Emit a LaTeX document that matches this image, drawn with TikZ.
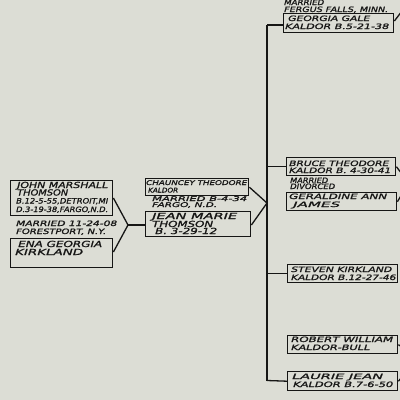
\documentclass[tikz,border=0pt]{standalone}
\usepackage{fontspec}
\usepackage{graphicx}
\newfontfamily\lett[FakeBold=1.2]{DejaVu Sans}
\newcommand\fw[2]{\resizebox{#1pt}{\height}{#2}}
\definecolor{paper}{HTML}{DCDDD5}
\definecolor{ink}{HTML}{161615}
\begin{document}
\begin{tikzpicture}[x=1pt,y=-1pt,
  box/.style={draw=ink, line width=1.4pt, anchor=north west, inner sep=0pt},
  link/.style={draw=ink, line width=1.3pt},
  txt/.style={anchor=base west, inner sep=0pt, text=ink, font=\lett\itshape\fontsize{8.4}{9}\selectfont},
  sml/.style={txt, font=\lett\itshape\fontsize{7.4}{8}\selectfont},
  tny/.style={txt, font=\lett\itshape\fontsize{6.5}{7}\selectfont}]
\fill[paper] (0,0) rectangle (400,400);
\useasboundingbox (0,0) rectangle (400,400);
\clip (0,0) rectangle (400,400);

% boxes
\node[box, minimum width=102pt, minimum height=35pt] (john) at (10,180) {};
\node[box, minimum width=102pt, minimum height=29pt] (ena) at (10,238) {};
\node[box, minimum width=103pt, minimum height=17pt] (chauncey) at (145,178) {};
\node[box, minimum width=105pt, minimum height=25pt] (jean) at (145,211) {};
\node[box, minimum width=110pt, minimum height=19pt] (georgia) at (283,13) {};
\node[box, minimum width=109pt, minimum height=18pt] (bruce) at (286,157) {};
\node[box, minimum width=110pt, minimum height=18pt] (geraldine) at (286,192) {};
\node[box, minimum width=110pt, minimum height=18pt] (steven) at (287,264) {};
\node[box, minimum width=110pt, minimum height=18pt] (robert) at (287,335) {};
\node[box, minimum width=110pt, minimum height=19pt] (laurie) at (287,371) {};

% texts
\node[txt] (t1) at (17,188) {\fw{91}{JOHN MARSHALL}};
\node[txt] (t2) at (17,195.5) {\fw{51}{THOMSON}};
\node[sml] (t3) at (16,203.5) {\fw{92}{B.12-5-55,DETROIT,MI}};
\node[sml] (t4) at (16,212) {\fw{92}{D.3-19-38,FARGO,N.D.}};
\node[sml] (t5) at (16,226) {\fw{101}{MARRIED 11-24-08}};
\node[sml] (t6) at (16,234) {\fw{90}{FORESTPORT, N.Y.}};
\node[txt] (t7) at (18,247) {\fw{84}{ENA GEORGIA}};
\node[txt] (t8) at (15,255) {\fw{68}{KIRKLAND}};

\node[tny] (c1) at (146,185) {\fw{101}{CHAUNCEY THEODORE}};
\node[tny] (c2) at (148,192.5) {\fw{30}{KALDOR}};
\node[tny] (c3) at (152,201) {\fw{95}{MARRIED B-4-34}};
\node[tny] (c4) at (152,207) {\fw{65}{FARGO, N.D.}};
\node[txt] (c5) at (152,219) {\fw{85}{JEAN MARIE}};
\node[txt] (c6) at (152,227) {\fw{61}{THOMSON}};
\node[txt] (c7) at (155,234) {\fw{62}{B. 3-29-12}};

\node[sml] (g0) at (284,5) {\fw{40}{MARRIED}};
\node[sml] (g1) at (284,12) {\fw{104}{FERGUS FALLS, MINN.}};
\node[sml] (g2) at (288,21) {\fw{82}{GEORGIA GALE}};
\node[sml] (g3) at (285,29) {\fw{104}{KALDOR B.5-21-38}};

\node[sml] (b1) at (289,166) {\fw{100}{BRUCE THEODORE}};
\node[sml] (b2) at (289,173) {\fw{102}{KALDOR B. 4-30-41}};
\node[sml] (b3) at (290,183) {\fw{38}{MARRIED}};
\node[sml] (b4) at (290,189) {\fw{45}{DIVORCED}};
\node[sml] (b5) at (289,199) {\fw{98}{GERALDINE ANN}};
\node[sml] (b6) at (293,207) {\fw{47}{JAMES}};

\node[sml] (s1) at (291,272) {\fw{101}{STEVEN KIRKLAND}};
\node[sml] (s2) at (291,280) {\fw{105}{KALDOR B.12-27-46}};
\node[sml] (r1) at (291,342) {\fw{102}{ROBERT WILLIAM}};
\node[sml] (r2) at (291,350) {\fw{79}{KALDOR-BULL}};
\node[sml] (l1) at (292,379) {\fw{91}{LAURIE JEAN}};
\node[sml] (l2) at (293,387) {\fw{100}{KALDOR B.7-6-50}};

% connectors
\coordinate (p1) at (128,225);
\coordinate (p2) at (267,203);
\coordinate (vtop) at (267,25);
\coordinate (vbot) at (267,380.5);
\draw[link] ([yshift=-18pt]john.north east) -- (p1) -- ([yshift=-14pt]ena.north east);
\draw[link] (p1) -- (p1 -| jean.west);
\draw[link] (chauncey.east) -- (p2) -- ([yshift=-14pt]jean.north east);
\draw[link] (vtop) -- (vbot);
\draw[link] (vtop) -- (vtop -| georgia.west);
\draw[link] (bruce.west -| vtop) -- (bruce.west);
\draw[link] (steven.west -| vtop) -- (steven.west);
\draw[link] (vbot) -- (laurie.west);

\coordinate (e1) at (402,11);
\coordinate (e2) at (402,174);
\coordinate (e3) at (402,194);
\coordinate (e4) at (402,347);
\coordinate (e5) at (402,377);
\draw[link] ([yshift=-8pt]georgia.north east) -- (e1);
\draw[link] (bruce.east) -- (e2);
\draw[link] (geraldine.east) -- (e3);
\draw[link] (robert.east) -- (e4);
\draw[link] (laurie.east) -- (e5);
\end{tikzpicture}
\end{document}
